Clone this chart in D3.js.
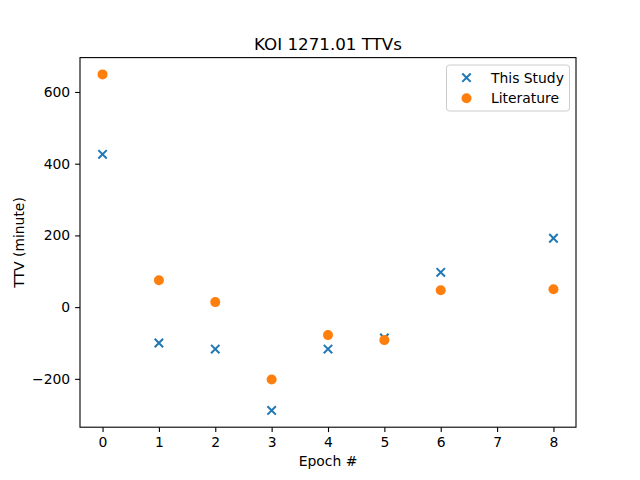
<!DOCTYPE html>
<html>
<head>
<meta charset="utf-8">
<script src="https://cdn.jsdelivr.net/npm/d3@7"></script>
<style>
  body { margin: 0; background: #fff; }
  text { font-family: "DejaVu Sans", sans-serif; }
</style>
</head>
<body>
<div id="chart"></div>
<script>
// Data
const epochsStudy = [0, 1, 2, 3, 4, 5, 6, 8];
const ttvStudy = [426, -100, -117, -288, -117, -86, 97, 192];
const epochsLit = [0, 1, 2, 3, 4, 5, 6, 8];
const ttvLit = [649, 75, 14, -202, -78, -92, 47, 50];
const xTicks = [0, 1, 2, 3, 4, 5, 6, 7, 8];
const yTicks = [-200, 0, 200, 400, 600];

const W = 640, H = 480;
const margin = { top: 57.6, right: 64, bottom: 52.8, left: 80 };
const width = W - margin.left - margin.right;
const height = H - margin.top - margin.bottom;

const blue = "#1f77b4", orange = "#ff7f0e";

const svg = d3.select("#chart").append("svg")
  .attr("width", W).attr("height", H);

const g = svg.append("g")
  .attr("transform", `translate(${margin.left},${margin.top})`);

// Scales with matplotlib-like 5% padding
const x = d3.scaleLinear().domain([-0.4, 8.4]).range([0, width]);
const yMin = -288, yMax = 649, pad = (yMax - yMin) * 0.05;
const y = d3.scaleLinear().domain([yMin - pad, yMax + pad]).range([height, 0]);

// Axes
const xAxis = g.append("g")
  .attr("transform", `translate(0,${height})`)
  .call(d3.axisBottom(x).tickValues(xTicks).tickSize(4.9).tickPadding(4.9).tickFormat(d3.format("d")));
const yAxis = g.append("g")
  .call(d3.axisLeft(y).tickValues(yTicks).tickSize(4.9).tickPadding(4.9)
    .tickFormat(d => d < 0 ? "\u2212" + Math.abs(d) : d));

[xAxis, yAxis].forEach(a => {
  a.select(".domain").remove();
  a.selectAll(".tick line").attr("stroke", "#000").attr("stroke-width", 1.1);
  a.selectAll(".tick text").attr("fill", "#000").style("font-size", "13.9px")
    .style("font-family", "'DejaVu Sans', sans-serif");
});

// Frame
g.append("rect")
  .attr("width", width).attr("height", height)
  .attr("fill", "none").attr("stroke", "#000").attr("stroke-width", 1.1);

// This Study: x markers
const xm = 4.2;
const crosses = g.selectAll(".study")
  .data(epochsStudy.map((e, i) => ({ e, v: ttvStudy[i] })))
  .enter().append("path")
  .attr("class", "study")
  .attr("transform", d => `translate(${x(d.e)},${y(d.v)})`)
  .attr("d", `M${-xm},${-xm}L${xm},${xm}M${-xm},${xm}L${xm},${-xm}`)
  .attr("stroke", blue).attr("stroke-width", 2).attr("fill", "none");

// Literature: circles
g.selectAll(".lit")
  .data(epochsLit.map((e, i) => ({ e, v: ttvLit[i] })))
  .enter().append("circle")
  .attr("class", "lit")
  .attr("cx", d => x(d.e)).attr("cy", d => y(d.v))
  .attr("r", 5).attr("fill", orange);

// Title and axis labels
svg.append("text")
  .attr("x", margin.left + width / 2).attr("y", margin.top - 8)
  .attr("text-anchor", "middle").style("font-size", "16.7px")
  .text("KOI 1271.01 TTVs");

svg.append("text")
  .attr("x", margin.left + width / 2).attr("y", H - 14)
  .attr("text-anchor", "middle").style("font-size", "13.9px")
  .text("Epoch #");

svg.append("text")
  .attr("transform", `translate(24,${margin.top + height / 2}) rotate(-90)`)
  .attr("text-anchor", "middle").style("font-size", "13.9px")
  .text("TTV (minute)");

// Legend
const lg = svg.append("g").attr("transform", "translate(446.5,65)");
lg.append("rect")
  .attr("width", 123).attr("height", 46).attr("rx", 3)
  .attr("fill", "#fff").attr("fill-opacity", 0.8)
  .attr("stroke", "#ccc").attr("stroke-width", 1);
lg.append("path")
  .attr("transform", "translate(20,12.7)")
  .attr("d", `M${-xm},${-xm}L${xm},${xm}M${-xm},${xm}L${xm},${-xm}`)
  .attr("stroke", blue).attr("stroke-width", 2).attr("fill", "none");
lg.append("circle").attr("cx", 20).attr("cy", 33.3).attr("r", 5).attr("fill", orange);
lg.append("text").attr("x", 44.5).attr("y", 17.5).style("font-size", "13.9px").text("This Study");
lg.append("text").attr("x", 44.5).attr("y", 38).style("font-size", "13.9px").text("Literature");
</script>
</body>
</html>
